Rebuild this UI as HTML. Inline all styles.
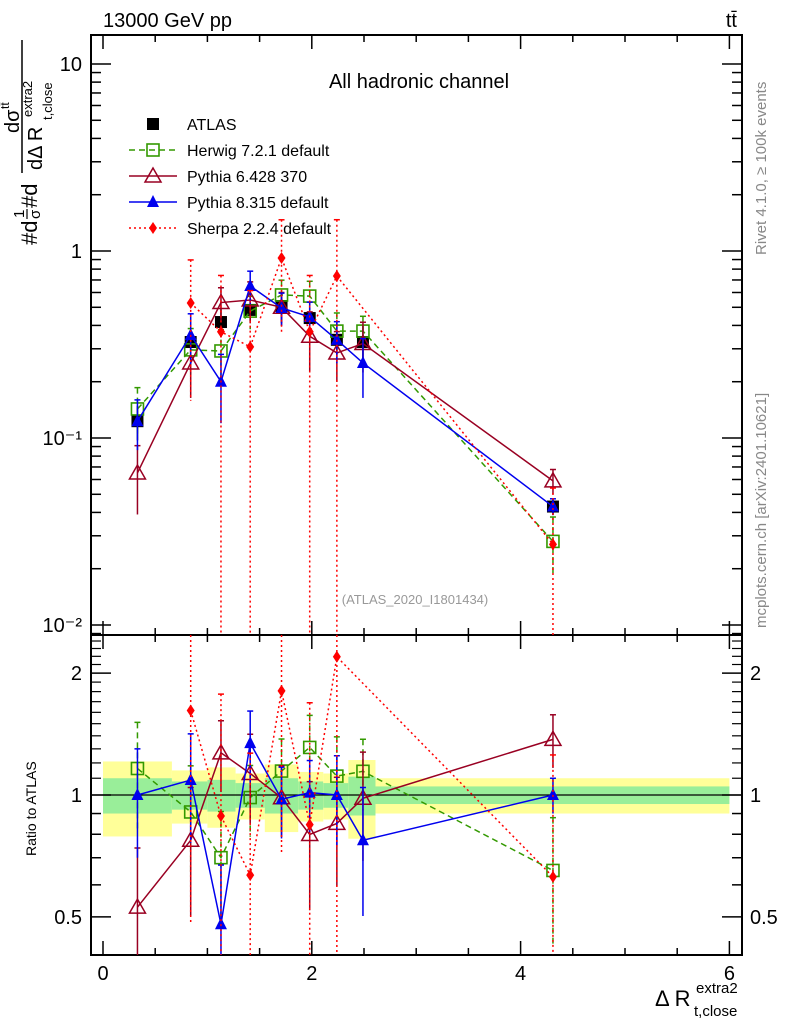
<!DOCTYPE html>
<html><head><meta charset="utf-8"><style>
html,body{margin:0;background:#fff;width:786px;height:1024px;overflow:hidden}
svg{display:block;font-family:"Liberation Sans",sans-serif}
</style></head><body>
<svg id="c" width="786" height="1024" viewBox="0 0 786 1024">
<text x="103" y="27" font-size="20">13000 GeV pp</text>
<text x="737" y="27" font-size="20" text-anchor="end">tt̄</text>
<text x="419" y="88" font-size="20" text-anchor="middle">All hadronic channel</text>
<text x="415" y="604" font-size="13" fill="#999" text-anchor="middle">(ATLAS_2020_I1801434)</text>
<text transform="translate(766,255) rotate(-90)" font-size="15" fill="#888">Rivet 4.1.0, ≥ 100k events</text>
<text transform="translate(766,628) rotate(-90)" font-size="15" fill="#888">mcplots.cern.ch [arXiv:2401.10621]</text>
<g transform="translate(0,245) rotate(-90)">
<text x="0" y="37" font-size="22">#d</text>
<text x="27" y="24" font-size="15">1</text>
<line x1="26" y1="27" x2="36" y2="27" stroke="#000" stroke-width="1.2"/>
<text x="26" y="40" font-size="15">σ</text>
<text x="37" y="37" font-size="22">#d</text>
<line x1="72" y1="22" x2="205" y2="22" stroke="#000" stroke-width="1.5"/>
<text x="112" y="19" font-size="20">dσ</text>
<text x="136" y="9" font-size="12">tt̄</text>
<text x="75" y="42" font-size="20">dΔ R</text>
<text x="125" y="52" font-size="13">t,close</text>
<text x="128" y="32" font-size="13">extra2</text>
</g>
<text x="0" y="0" font-size="14" transform="translate(36,856) rotate(-90)">Ratio to ATLAS</text>
<g>
<text x="655" y="1006" font-size="22">Δ R</text>
<text x="694" y="1016" font-size="15">t,close</text>
<text x="696" y="993" font-size="15">extra2</text>
</g>
<g id="bands"></g><g id="axes"></g><g id="main"></g><g id="ratio"></g><g id="legend"></g>
</svg>
<script>
const xCenters=[0.33,0.84,1.13,1.41,1.71,1.98,2.24,2.49,4.31];
const binEdges=[0,0.66,1.0,1.27,1.55,1.87,2.11,2.35,2.61,6.0];
const atlas=[0.123,0.326,0.417,0.484,0.508,0.438,0.335,0.326,0.043];
const atlasYellow=[0.21,0.15,0.17,0.13,0.19,0.14,0.13,0.22,0.10];
const atlasGreen=[0.10,0.08,0.09,0.07,0.10,0.08,0.07,0.11,0.05];
const herwig=[0.143,0.296,0.292,0.477,0.582,0.574,0.373,0.373,0.028];
const herwigErr=[0.3,0.3,0.3,0.2,0.2,0.2,0.25,0.2,0.35];
const pythia6=[0.065,0.252,0.53,0.547,0.50,0.35,0.285,0.32,0.059];
const pythia6Err=[0.4,0.35,0.2,0.25,0.2,0.35,0.3,0.3,0.15];
const pythia8=[0.123,0.355,0.20,0.65,0.496,0.444,0.335,0.252,0.043];
const pythia8Err=[0.3,0.3,0.4,0.2,0.2,0.2,0.25,0.35,0.1];
const sherpa=[null,0.527,0.37,0.307,0.918,0.37,0.735,null,0.027];
const sherpaErr=[null,0.7,1.0,1.0,0.6,1.0,1.0,null,1.0];
const mainTicks=["10⁻²","10⁻¹","1","10"];
const ratioTicks=[0.5,1,2];
const xTicks=[0,2,4,6];

const NS="http://www.w3.org/2000/svg";
const L=91,R=742,MT=35,MB=635,RB=955;
const X=v=>103+v*104.4;
const Y=v=>251-Math.log10(v)*187;
const YR=v=>795-Math.log10(v)*405;
function mk(p,t,a){const e=document.createElementNS(NS,t);for(const k in a)e.setAttribute(k,a[k]);p.appendChild(e);return e;}
const gB=document.getElementById('bands'),gA=document.getElementById('axes'),gM=document.getElementById('main'),gR=document.getElementById('ratio'),gL=document.getElementById('legend');
for(let i=0;i<atlas.length;i++){
 const x1=X(binEdges[i]),x2=X(binEdges[i+1]);
 let r=mk(gB,'rect',{x:x1,y:YR(1+atlasYellow[i]),width:x2-x1,height:YR(1-atlasYellow[i])-YR(1+atlasYellow[i]),fill:'#ffff99'});
 
 
 r=mk(gB,'rect',{x:x1,y:YR(1+atlasGreen[i]),width:x2-x1,height:YR(1-atlasGreen[i])-YR(1+atlasGreen[i]),fill:'#99ee99'});
 
 
}
mk(gB,'line',{x1:L,x2:R,y1:YR(1),y2:YR(1),stroke:'#000','stroke-width':1.3});
mk(gA,'rect',{x:L,y:MT,width:R-L,height:MB-MT,fill:'none',stroke:'#000','stroke-width':2});
mk(gA,'rect',{x:L,y:MB,width:R-L,height:RB-MB,fill:'none',stroke:'#000','stroke-width':2});
for(let v=0;v<=6.001;v+=0.5){const maj=Math.abs(v-Math.round(v/2)*2)<1e-6;const len=maj?14:7;const x=X(v);
 [MT,MB].forEach(y=>mk(gA,'line',{x1:x,x2:x,y1:y,y2:y+len,stroke:'#000','stroke-width':1.5}));
 [MB,RB].forEach(y=>mk(gA,'line',{x1:x,x2:x,y1:y,y2:y-len,stroke:'#000','stroke-width':1.5}));}
xTicks.forEach(v=>{const t=mk(gA,'text',{x:X(v),y:980,'font-size':20,'text-anchor':'middle'});t.textContent=v;
 
 });
for(let d=-3;d<=1;d++)for(let m=1;m<10;m++){const v=m*Math.pow(10,d);const y=Y(v);if(y<MT||y>MB)continue;const len=m==1?20:10;
 mk(gA,'line',{x1:L,x2:L+len,y1:y,y2:y,stroke:'#000','stroke-width':1.5});mk(gA,'line',{x1:R,x2:R-len,y1:y,y2:y,stroke:'#000','stroke-width':1.5});}
[0.01,0.1,1,10].forEach((v,i)=>{const t=mk(gA,'text',{x:82,y:Y(v)+7,'font-size':20,'text-anchor':'end'});t.textContent=mainTicks[i];
 
 });
[0.5,0.6,0.7,0.8,0.9,1,2].forEach(v=>{const y=YR(v);const len=(v==0.5||v==1||v==2)?20:10;
 mk(gA,'line',{x1:L,x2:L+len,y1:y,y2:y,stroke:'#000','stroke-width':1.5});mk(gA,'line',{x1:R,x2:R-len,y1:y,y2:y,stroke:'#000','stroke-width':1.5});});
for(let v=1.1;v<2.45;v+=0.1){if(Math.abs(v-2)<0.01)continue;const y=YR(v);mk(gA,'line',{x1:L,x2:L+10,y1:y,y2:y,stroke:'#000','stroke-width':1.2});mk(gA,'line',{x1:R,x2:R-10,y1:y,y2:y,stroke:'#000','stroke-width':1.2});}
ratioTicks.forEach(v=>{[[82,'end'],[750,'start']].forEach(([x,a])=>{const t=mk(gA,'text',{x:x,y:YR(v)+7,'font-size':20,'text-anchor':a});t.textContent=v;
 
 });});
const defs=mk(document.getElementById('c'),'defs',{});
const c1=mk(defs,'clipPath',{id:'cm'});mk(c1,'rect',{x:L,y:MT,width:R-L,height:MB-MT});
const c2=mk(defs,'clipPath',{id:'cr'});mk(c2,'rect',{x:L,y:MB,width:R-L,height:RB-MB});
gM.setAttribute('clip-path','url(#cm)');gR.setAttribute('clip-path','url(#cr)');
function marker(g,type,x,y,col){
 if(type=='sq')return mk(g,'rect',{x:x-6,y:y-6,width:12,height:12,fill:'#000'});
 if(type=='osq')return mk(g,'rect',{x:x-6,y:y-6,width:12,height:12,fill:'#fff','fill-opacity':0,stroke:col,'stroke-width':1.6});
 if(type=='otri')return mk(g,'polygon',{points:`${x},${y-8} ${x-8},${y+6} ${x+8},${y+6}`,fill:'none',stroke:col,'stroke-width':1.5});
 if(type=='tri')return mk(g,'polygon',{points:`${x},${y-7} ${x-6},${y+5} ${x+6},${y+5}`,fill:col});
 if(type=='dia')return mk(g,'polygon',{points:`${x},${y-6} ${x-4},${y} ${x},${y+6} ${x+4},${y}`,fill:col});
}
const series=[
 {n:'herwig',v:herwig,e:herwigErr,col:'#339900',dash:'6,4',m:'osq'},
 {n:'pythia6',v:pythia6,e:pythia6Err,col:'#990022',dash:'',m:'otri'},
 {n:'pythia8',v:pythia8,e:pythia8Err,col:'#0000ee',dash:'',m:'tri'},
 {n:'sherpa',v:sherpa,e:sherpaErr,col:'#ff0000',dash:'2,3',m:'dia'}];
const clampY=(y,top,bot)=>Math.max(top,Math.min(bot,y));
function draw(g,Yf,vals,errs,s,isRatio){
 const top=isRatio?MB:MT,bot=isRatio?RB:MB;
 const pts=[];
 vals.forEach((v,i)=>{if(v==null)return;const val=isRatio?v/atlas[i]:v;const x=X(xCenters[i]),y=Yf(val);pts.push([x,y]);
  const upRaw=Yf(val*(1+errs[i]));const up=clampY(upRaw,top,bot);
  const lo=errs[i]>=0.999?bot:clampY(Yf(val*(1-errs[i])),top,bot);
  const eb=mk(g,'line',{x1:x,x2:x,y1:up,y2:lo,stroke:s.col,'stroke-width':1.5,'stroke-dasharray':s.dash});
  
  
  if(upRaw>top)mk(g,'line',{x1:x-3,x2:x+3,y1:up,y2:up,stroke:s.col,'stroke-width':1.5});});
 const pl=mk(g,'polyline',{points:pts.map(p=>p.join(',')).join(' '),fill:'none',stroke:s.col,'stroke-width':1.5,'stroke-dasharray':s.dash});
 
 
 pts.forEach(p=>{const m=marker(g,s.m,p[0],p[1],s.col);
  
  });
}
atlas.forEach((v,i)=>{const x=X(xCenters[i]);
 mk(gM,'line',{x1:x,x2:x,y1:Y(v*(1+atlasYellow[i])),y2:Y(v*(1-atlasYellow[i])),stroke:'#000','stroke-width':1.5});
 const m=marker(gM,'sq',x,Y(v));
 
 });
series.forEach(s=>{draw(gM,Y,s.v,s.e,s,false);draw(gR,YR,s.v,s.e,s,true);});
const names=['ATLAS','Herwig 7.2.1 default','Pythia 6.428 370','Pythia 8.315 default','Sherpa 2.2.4 default'];
names.forEach((nm,i)=>{const y=124+i*26;
 if(i>0){const s=series[i-1];mk(gL,'line',{x1:129,x2:177,y1:y,y2:y,stroke:s.col,'stroke-width':1.5,'stroke-dasharray':s.dash});marker(gL,s.m,153,y,s.col);}
 else marker(gL,'sq',153,y);
 const t=mk(gL,'text',{x:187,y:y+6,'font-size':16});t.textContent=nm;
 
 });
</script>
</body></html>
